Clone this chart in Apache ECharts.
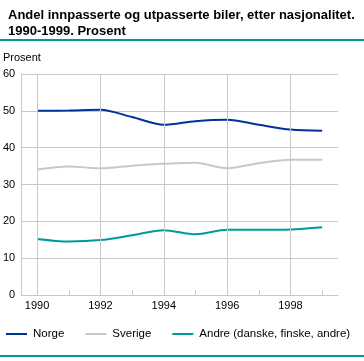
<!DOCTYPE html>
<html><head><meta charset="utf-8">
<script src="https://cdn.jsdelivr.net/npm/echarts@6/dist/echarts.min.js"></script>
<style>html,body{margin:0;padding:0;background:#fff}#c{width:364px;height:361px}</style>
</head><body><div id="c"></div>
<script>
const years = ['1990','1991','1992','1993','1994','1995','1996','1997','1998','1999'];
const norge = [50.0, 50.1, 50.3, 48.3, 46.2, 47.2, 47.6, 46.2, 44.9, 44.6];
const sverige = [34.1, 34.9, 34.4, 35.1, 35.6, 35.9, 34.4, 35.8, 36.7, 36.7];
const andre = [15.2, 14.5, 14.9, 16.2, 17.6, 16.5, 17.7, 17.7, 17.8, 18.4];
const yTicks = [0, 10, 20, 30, 40, 50, 60];
const gridYears = ['1990','1992','1994','1996','1998'];
const seriesNames = ['Norge', 'Sverige', 'Andre (danske, finske, andre)'];
const colors = ['#003399', '#c8c8c8', '#009999'];
const FONT = '"Liberation Sans", Arial, sans-serif';

const chart = echarts.init(document.getElementById('c'), null, {renderer: 'canvas'});
chart.setOption({
  animation: false,
  title: {
    text: 'Andel innpasserte og utpasserte biler, etter nasjonalitet.\n1990-1999. Prosent',
    left: 3, top: 2,
    textStyle: {fontFamily: FONT, fontSize: 13, fontWeight: 'bold', color: '#000', lineHeight: 16}
  },
  graphic: [
    {type: 'rect', shape: {x: 0, y: 39, width: 364, height: 2}, style: {fill: '#009999'}},
    {type: 'rect', shape: {x: 0, y: 355, width: 364, height: 2}, style: {fill: '#009999'}},
    {type: 'text', left: 3, top: 52, style: {text: 'Prosent', font: '11px ' + FONT, fill: '#000'}}
  ],
  legend: {
    top: 328, left: 6, padding: 0, itemGap: 21, itemWidth: 21, itemHeight: 2, icon: 'rect',
    textStyle: {fontFamily: FONT, fontSize: 11.5, color: '#000', padding: [0,0,0,1]},
    data: seriesNames
  },
  grid: {left: 19, right: 26, top: 74, bottom: 66, containLabel: false},
  xAxis: {
    type: 'category', data: years, boundaryGap: true,
    axisLine: {lineStyle: {color: '#c8c8c8', width: 1}},
    axisTick: {show: true, inside: true, length: 5, alignWithLabel: true, interval: 0, lineStyle: {color: '#c8c8c8'}},
    axisLabel: {interval: 1, color: '#000', fontFamily: FONT, fontSize: 11, margin: 5},
    splitLine: {show: false}
  },
  yAxis: {
    type: 'value', min: yTicks[0], max: yTicks[yTicks.length-1], interval: 10,
    axisLine: {show: true, lineStyle: {color: '#c8c8c8'}},
    axisTick: {show: false},
    axisLabel: {color: '#000', fontFamily: FONT, fontSize: 11, margin: 6},
    splitLine: {lineStyle: {color: '#c8c8c8', width: 1}}
  },
  series: [
    {name: 'grid', type: 'line', data: years.map(() => null), z: 1, silent: true, symbol: 'none',
     markLine: {silent: true, symbol: ['none', 'none'], label: {show: false},
       lineStyle: {color: '#c8c8c8', width: 1, type: 'solid'},
       emphasis: {disabled: true},
       data: gridYears.map(y => [{xAxis: y, yAxis: yTicks[0]}, {xAxis: y, yAxis: yTicks[yTicks.length-1]}])}},
    {name: seriesNames[0], type: 'line', data: norge, smooth: 0.3, symbol: 'none', lineStyle: {width: 2, color: colors[0]}, itemStyle: {color: colors[0]}},
    {name: seriesNames[1], type: 'line', data: sverige, smooth: 0.3, symbol: 'none', lineStyle: {width: 2, color: colors[1]}, itemStyle: {color: colors[1]}},
    {name: seriesNames[2], type: 'line', data: andre, smooth: 0.3, symbol: 'none', lineStyle: {width: 2, color: colors[2]}, itemStyle: {color: colors[2]}}
  ]
});
</script></body></html>
